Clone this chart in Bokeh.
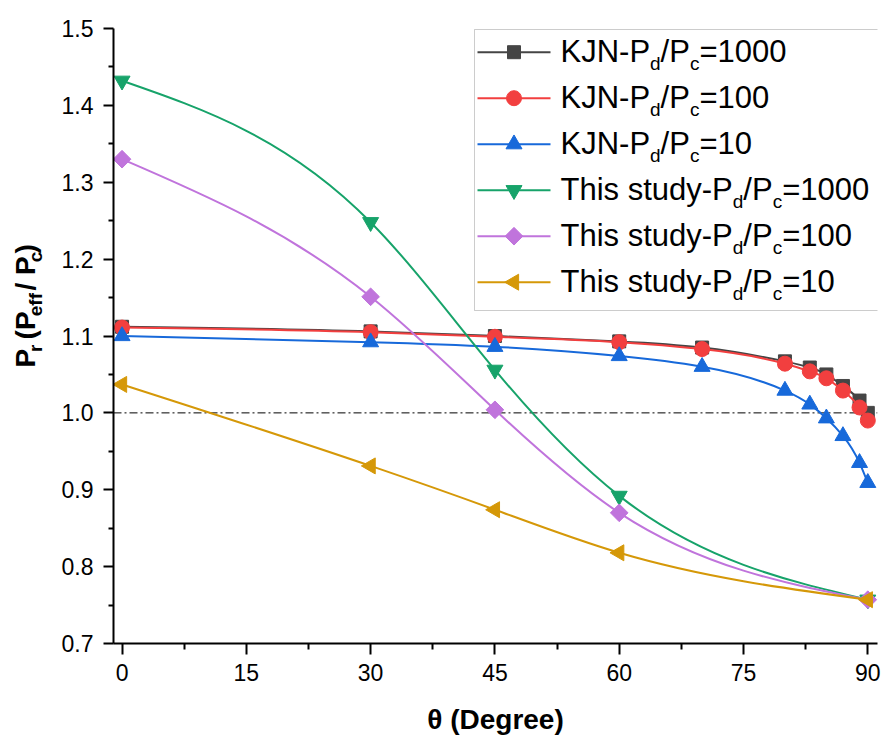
import math
import numpy as np
from bokeh.plotting import figure
from bokeh.layouts import row
from bokeh.models import Range1d, FixedTicker, Span, BoxAnnotation, Label, ColumnDataSource
from bokeh.embed import file_html
from bokeh.resources import INLINE

# ---------------- data ----------------
theta_kjn = [0, 30, 45, 60, 70, 80, 83, 85, 87, 89, 90]
kjn_1000 = [1.112, 1.106, 1.100, 1.093, 1.085, 1.067, 1.059, 1.050, 1.035, 1.016, 1.000]
kjn_100 = [1.111, 1.105, 1.099, 1.092, 1.083, 1.064, 1.054, 1.045, 1.029, 1.007, 0.990]
kjn_10 = [1.100, 1.092, 1.086, 1.074, 1.060, 1.029, 1.011, 0.993, 0.970, 0.935, 0.909]

theta_study = [0, 30, 45, 60, 90]
study_1000 = [1.432, 1.248, 1.056, 0.892, 0.757]
study_100 = [1.330, 1.151, 1.004, 0.870, 0.757]
study_10 = [1.037, 0.931, 0.874, 0.818, 0.757]

legend_prefixes = ["KJN-P", "KJN-P", "KJN-P", "This study-P", "This study-P", "This study-P"]
legend_ratios = ["=1000", "=100", "=10", "=1000", "=100", "=10"]

x_ticks = [0, 15, 30, 45, 60, 75, 90]
y_ticks = [0.7, 0.8, 0.9, 1.0, 1.1, 1.2, 1.3, 1.4, 1.5]
reference_level = 1.0
x_title = "θ (Degree)"

# ---------------- styles ----------------
colors = ["#454545", "#f23f3f", "#1769da", "#17a36a", "#c074dc", "#d59808"]
markers = [("square", 0.0, 13), ("circle", 0.0, 15), ("triangle", 0.0, 16),
           ("inverted_triangle", 0.0, 16), ("square", math.pi / 4, 12.5),
           ("triangle", math.pi / 2, 16)]

series = [(theta_kjn, kjn_1000), (theta_kjn, kjn_100), (theta_kjn, kjn_10),
          (theta_study, study_1000), (theta_study, study_100), (theta_study, study_10)]

# ---------------- layout (global page pixels) ----------------
W, H = 883, 742
LEFT_W = 57                      # strip that holds the y-axis title
FL, FR, FT, FB = 113, 877, 28, 643
X0, X1 = -1.03, 91.17
Y0, Y1 = 0.7, 1.5
BASE_FIX = 1.0 / 3.0             # alphabetic-baseline correction (fraction of font size)


def dx(px):
    return X0 + (px - FL) / (FR - FL) * (X1 - X0)


def dy(py):
    return Y1 - (py - FT) / (FB - FT) * (Y1 - Y0)


p = figure(width=W - LEFT_W, height=H, x_range=Range1d(X0, X1), y_range=Range1d(Y0, Y1),
           output_backend="svg", toolbar_location=None,
           min_border_left=FL - LEFT_W, min_border_right=W - FR,
           min_border_top=FT, min_border_bottom=H - FB)
p.outline_line_color = None
p.background_fill_color = "white"
p.border_fill_color = "white"
p.xgrid.visible = False
p.ygrid.visible = False

xminor = [(a + b) / 2 for a, b in zip(x_ticks[:-1], x_ticks[1:])]
yminor = [(a + b) / 2 for a, b in zip(y_ticks[:-1], y_ticks[1:])]
p.xaxis.ticker = FixedTicker(ticks=x_ticks, minor_ticks=xminor)
p.yaxis.ticker = FixedTicker(ticks=y_ticks, minor_ticks=yminor)
p.yaxis.major_label_overrides = {t: f"{t:.1f}" for t in y_ticks}

for ax in (p.xaxis[0], p.yaxis[0]):
    ax.axis_line_width = 2
    ax.axis_line_color = "black"
    ax.major_tick_line_width = 2
    ax.minor_tick_line_width = 2
    ax.major_tick_line_color = "black"
    ax.minor_tick_line_color = "black"
    ax.major_tick_in = 0
    ax.minor_tick_in = 0
    ax.major_label_text_font = "Liberation Sans"
    ax.major_label_text_color = "black"
p.xaxis.major_tick_out = 11
p.xaxis.minor_tick_out = 6
p.yaxis.major_tick_out = 10
p.yaxis.minor_tick_out = 5
p.xaxis.major_label_text_font_size = "23px"
p.yaxis.major_label_text_font_size = "23px"
p.xaxis.major_label_standoff = 9
p.yaxis.major_label_standoff = 10

p.xaxis.axis_label = x_title
p.xaxis.axis_label_text_font = "Liberation Sans"
p.xaxis.axis_label_text_font_size = "28px"
p.xaxis.axis_label_text_font_style = "bold"
p.xaxis.axis_label_text_color = "black"
p.xaxis.axis_label_standoff = 20

# dash-dot reference line
p.add_layout(Span(location=reference_level, dimension="width", line_color="black",
                  line_width=1, line_dash="8 3 2 3", level="underlay"))


# ---------------- smooth curves (natural cubic spline as Bezier segments) ----------------
def spline_bezier(xs, ys):
    x = np.asarray(xs, float)
    y = np.asarray(ys, float)
    n = len(x)
    h = np.diff(x)
    d = np.diff(y) / h
    A = np.zeros((n, n))
    b = np.zeros(n)
    A[0, 0] = 1
    A[-1, -1] = 1
    for i in range(1, n - 1):
        A[i, i - 1] = h[i - 1]
        A[i, i] = 2 * (h[i - 1] + h[i])
        A[i, i + 1] = h[i]
        b[i] = 6 * (d[i] - d[i - 1])
    M = np.linalg.solve(A, b)
    m = np.zeros(n)
    for i in range(n - 1):
        m[i] = d[i] - h[i] * (2 * M[i] + M[i + 1]) / 6
    m[-1] = d[-1] + h[-1] * (M[-2] + 2 * M[-1]) / 6
    return dict(x0=x[:-1], y0=y[:-1], x1=x[1:], y1=y[1:],
                cx0=x[:-1] + h / 3, cy0=y[:-1] + m[:-1] * h / 3,
                cx1=x[1:] - h / 3, cy1=y[1:] - m[1:] * h / 3)


for (xs, ys), col, (mk, ang, sz) in zip(series, colors, markers):
    src = ColumnDataSource(spline_bezier(xs, ys))
    p.bezier(x0="x0", y0="y0", x1="x1", y1="y1", cx0="cx0", cy0="cy0",
             cx1="cx1", cy1="cy1", source=src, line_color=col, line_width=2)
    p.scatter(xs, ys, marker=mk, angle=ang, size=sz, fill_color=col, line_color=col)

# ---------------- rich text helpers ----------------
REG = {'K': 667, 'J': 500, 'N': 722, '-': 333, 'P': 667, 'd': 556, '/': 278, 'c': 500,
       '=': 584, '0': 556, '1': 556, 'T': 611, 'h': 556, 'i': 222, 's': 500, ' ': 278,
       't': 278, 'u': 556, 'y': 500}
BOLD = {'P': 667, 'r': 389, ' ': 278, '(': 333, ')': 333, 'e': 556, 'f': 333, '/': 278,
        'c': 556}


def rich(fig, fx, fy, pieces, start, base, size, sub_size, drop, bold, vertical):
    table = BOLD if bold else REG
    pos = start
    for text, sub in pieces:
        fs = sub_size if sub else size
        lead = len(text) - len(text.lstrip(' '))
        shown = text.strip(' ')
        off = lead * table[' '] * fs / 1000
        width = sum(table[ch] for ch in text) * fs / 1000
        b = base + (drop if sub else 0) - fs * BASE_FIX
        if vertical:
            lab = Label(x=fx(b), y=fy(pos - off), text=shown, angle=math.pi / 2,
                        text_align="left", text_baseline="alphabetic")
            pos -= width
        else:
            lab = Label(x=fx(pos + off), y=fy(b), text=shown,
                        text_align="left", text_baseline="alphabetic")
            pos += width
        lab.text_font = "Liberation Sans"
        lab.text_font_size = f"{fs}px"
        lab.text_font_style = "bold" if bold else "normal"
        lab.text_color = "black"
        fig.add_layout(lab)


# ---------------- legend ----------------
p.add_layout(BoxAnnotation(left=dx(474), right=dx(880), top=dy(29), bottom=dy(310),
                           fill_color="white", fill_alpha=1.0, line_color="#555555",
                           line_width=1, level="underlay"))
row0, row_gap = 51.7, 46
for i, (col, (mk, ang, sz)) in enumerate(zip(colors, markers)):
    cy = row0 + i * row_gap
    p.line([dx(477), dx(550)], [dy(cy), dy(cy)], line_color=col, line_width=2)
    p.scatter([dx(513.5)], [dy(cy)], marker=mk, angle=ang, size=sz,
              fill_color=col, line_color=col)
    rich(p, dx, dy,
         [(legend_prefixes[i], False), ("d", True), ("/P", False), ("c", True),
          (legend_ratios[i], False)],
         start=560, base=cy + 10, size=31, sub_size=19, drop=8, bold=False, vertical=False)

# ---------------- y-axis title strip ----------------
lf = figure(width=LEFT_W, height=H, x_range=Range1d(0, LEFT_W), y_range=Range1d(H, 0),
            output_backend="svg", toolbar_location=None, x_axis_type=None, y_axis_type=None,
            min_border=0)
lf.outline_line_color = None
lf.background_fill_color = "white"
lf.border_fill_color = "white"
lf.xgrid.visible = False
lf.ygrid.visible = False


def ident(v):
    return v


rich(lf, ident, ident,
     [("P", False), ("r", True), (" (P", False), ("eff", True), (" / P", False),
      ("c", True), (")", False)],
     start=409, base=34, size=28, sub_size=19, drop=7, bold=True, vertical=True)

layout = row(lf, p, spacing=0)
open("out.html", "w").write(file_html(layout, INLINE))
